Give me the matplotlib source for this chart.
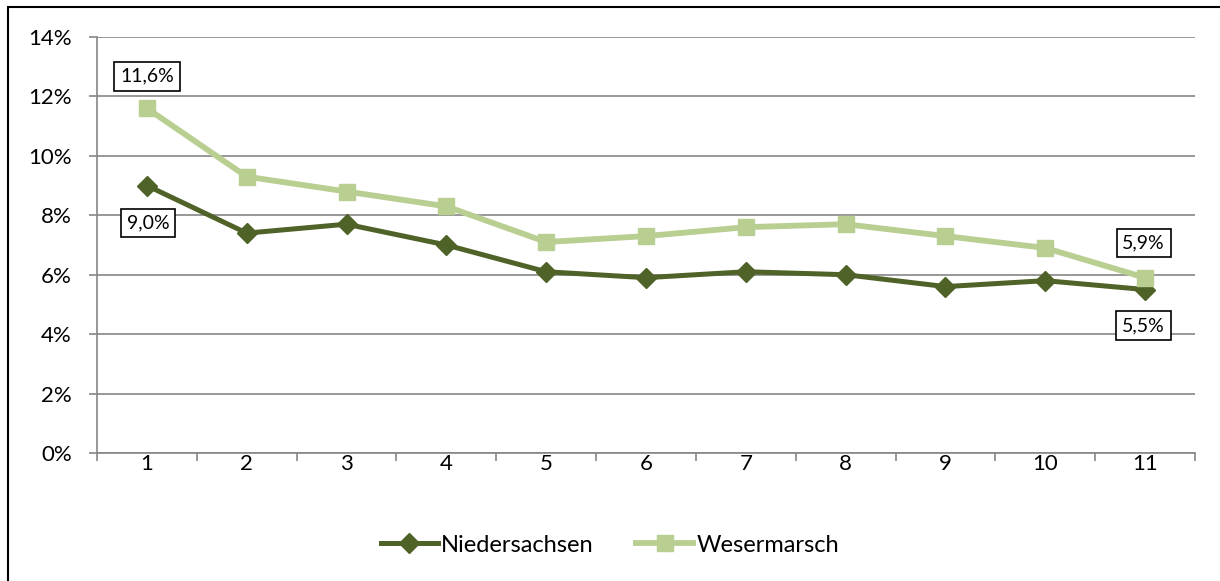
import matplotlib.pyplot as plt
from matplotlib.patches import Rectangle

plt.rcParams['font.family'] = ['Lato', 'DejaVu Sans']

# Data
categories = [str(i) for i in range(1, 12)]
niedersachsen = [9.0, 7.4, 7.7, 7.0, 6.1, 5.9, 6.1, 6.0, 5.6, 5.8, 5.5]
wesermarsch = [11.6, 9.3, 8.8, 8.3, 7.1, 7.3, 7.6, 7.7, 7.3, 6.9, 5.9]
y_ticks = [0, 2, 4, 6, 8, 10, 12, 14]

dark = '#4F6228'
light = '#B9CF92'
grid_col = '#868686'

fig = plt.figure(figsize=(12.2, 5.81), dpi=100)
ax = fig.add_axes([97 / 1220, 1 - 453 / 581, (1195 - 97) / 1220, (453 - 37) / 581])

x = list(range(1, len(categories) + 1))
ax.plot(x, niedersachsen, color=dark, linewidth=3.6, marker='D', markersize=10,
        label='Niedersachsen', zorder=3)
ax.plot(x, wesermarsch, color=light, linewidth=4.2, marker='s', markersize=12,
        label='Wesermarsch', zorder=3)

ax.set_xlim(0.5, len(categories) + 0.5)
ax.set_ylim(0, 14)
ax.set_yticks(y_ticks)
ax.set_yticklabels([f'{v}%' for v in y_ticks], fontsize=16)
ax.set_xticks(x)
ax.set_xticklabels(categories, fontsize=16)
ax.set_xticks([i + 0.5 for i in range(0, len(categories) + 1)], minor=True)
ax.tick_params(axis='x', which='major', length=0, pad=1)
ax.tick_params(axis='x', which='minor', length=6, color=grid_col, width=1.2)
ax.tick_params(axis='y', length=6, color=grid_col, width=1.2, pad=12)
ax.grid(axis='y', color=grid_col, linewidth=1.2)
ax.set_axisbelow(True)
for side in ['top', 'right']:
    ax.spines[side].set_visible(False)
for side in ['left', 'bottom']:
    ax.spines[side].set_color(grid_col)
    ax.spines[side].set_linewidth(1.2)

box = dict(boxstyle='square,pad=0.3', facecolor='white', edgecolor='black', linewidth=1.2)
ax.annotate('11,6%', (1, wesermarsch[0]), xytext=(0, 23), textcoords='offset points',
            ha='center', va='center', fontsize=14, bbox=box)
ax.annotate('9,0%', (1, niedersachsen[0]), xytext=(1, -27), textcoords='offset points',
            ha='center', va='center', fontsize=14, bbox=box)
ax.annotate('5,9%', (11, wesermarsch[-1]), xytext=(-1, 25), textcoords='offset points',
            ha='center', va='center', fontsize=14, bbox=box)
ax.annotate('5,5%', (11, niedersachsen[-1]), xytext=(-1, -26), textcoords='offset points',
            ha='center', va='center', fontsize=14, bbox=box)

fig.legend(loc='center', bbox_to_anchor=(0.5, 1 - 545 / 581), ncol=2, frameon=False,
           fontsize=17, handlelength=2.4, columnspacing=1.8, handletextpad=0.15)

fig.patches.append(Rectangle((8 / 1220, -0.1), 1.5, 1 - 7 / 581 + 0.1,
                             transform=fig.transFigure, fill=False,
                             edgecolor='black', linewidth=1.5))

fig.savefig('out.png', dpi=100)
